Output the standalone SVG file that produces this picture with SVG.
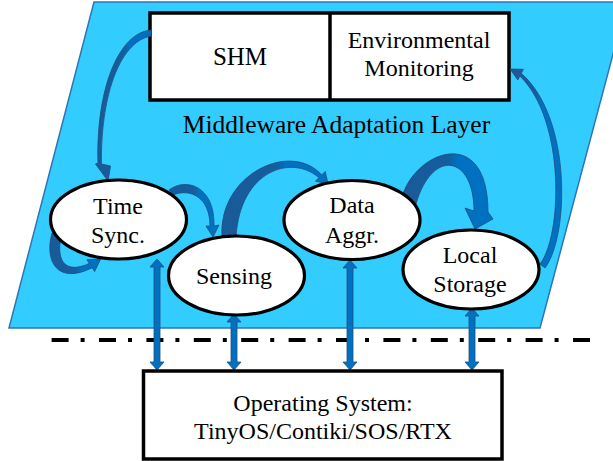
<svg xmlns="http://www.w3.org/2000/svg" width="613" height="461" viewBox="0 0 613 461" font-family="'Liberation Serif', 'DejaVu Serif', 'Noto Serif', serif">
<style>
text{font-family:"Liberation Serif","DejaVu Serif",serif;fill:#000;text-anchor:middle}
.box{fill:#fff;stroke:#000;stroke-width:3.5}
.ell{fill:#fff;stroke:#000;stroke-width:3.2}
.lbl{font-size:24px}
.curve{fill:url(#cg);stroke:#1F4E79;stroke-width:0.8}
.varr{fill:#0070C0;stroke:#1F4E79;stroke-width:0.8}
</style>
<defs>
<linearGradient id="cg" x1="0" y1="0" x2="1" y2="0">
<stop offset="0" stop-color="#1A5A99"/>
<stop offset="0.5" stop-color="#165C9E"/>
<stop offset="0.6" stop-color="#0070C0"/>
<stop offset="1" stop-color="#0070C0"/>
</linearGradient>
</defs>
<polygon points="94,2 627,2 540,328 9,328" fill="#33CCFF" stroke="#2E75B6" stroke-width="1.5"/>
<g id="apps">
<rect class="box" x="150" y="13" width="359" height="87"/>
<line x1="330" y1="13" x2="330" y2="100" stroke="#000" stroke-width="3.5"/>
<text x="240" y="65" font-size="25">SHM</text>
<text x="419" y="48" class="lbl">Environmental</text>
<text x="419" y="76" class="lbl">Monitoring</text>
</g>
<text id="layer-title" x="336.5" y="133" font-size="25.5">Middleware Adaptation Layer</text>
<line x1="51.6" y1="340" x2="591" y2="340" stroke="#000" stroke-width="4" stroke-dasharray="17 12 4 14.4"/>
<g id="connectors">
<path class="curve" d="M151,30 C118,33 96,90 98,163 L95.5,164 L108,181 L110.5,166 L101.5,164 C100.5,100 118,42 151,36 Z"/>
<path class="curve" d="M545,268 C569,236 572,118 521.3,73.3 L523.4,69.3 L510,69 L517.8,79.9 L519.9,76 C566,121 562,236 540,264 Z"/>
<path class="curve" d="M52,233 C44,262 58,285 92.1,267.7 L94.6,271.5 L100.7,259 L86.8,259.7 L89.3,263.5 C66,274 56,262 61,237 Z"/>
<path class="curve" d="M169,190 C186,177 215,186 214,226 L219,225 L213,237 L206,226 L210,226 C210,197 190,188 173,195 Z"/>
<path class="curve" d="M222,237 C218,175 290,140 321.7,174.9 L325.2,171.4 L328,184 L315.4,181.2 L318.9,177.7 C292,154 240,170 236,237 Z"/>
<path class="curve" d="M403,194 C418,150 488,125 488,212 L493,219 L475,229 L465,208 L474,211 C474,155 432,148 416,204 Z"/>
<path class="varr" d="M157,259 L164,267 L160,267 L160,362 L164,362 L157,370 L150,362 L154,362 L154,267 L150,267 Z"/>
<path class="varr" d="M234,314 L241,322 L237,322 L237,362 L241,362 L234,370 L227,362 L231,362 L231,322 L227,322 Z"/>
<path class="varr" d="M350,260 L357,268 L353,268 L353,362 L357,362 L350,370 L343,362 L347,362 L347,268 L343,268 Z"/>
<path class="varr" d="M472,308 L479,316 L475,316 L475,362 L479,362 L472,370 L465,362 L469,362 L469,316 L465,316 Z"/>
</g>
<g id="time-sync">
<ellipse class="ell" cx="118.5" cy="219.5" rx="68" ry="39.5"/>
<text x="118" y="214" class="lbl">Time</text>
<text x="118" y="243" class="lbl">Sync.</text>
</g>
<g id="sensing">
<ellipse class="ell" cx="236.5" cy="275.5" rx="68" ry="39.5"/>
<text x="234" y="284" class="lbl">Sensing</text>
</g>
<g id="data-aggr">
<ellipse class="ell" cx="352" cy="220" rx="68" ry="39.5"/>
<text x="352" y="213" class="lbl">Data</text>
<text x="352" y="243" class="lbl">Aggr.</text>
</g>
<g id="local-storage">
<ellipse class="ell" cx="471" cy="269.5" rx="68" ry="39.5"/>
<text x="470" y="263" class="lbl">Local</text>
<text x="470" y="292" class="lbl">Storage</text>
</g>
<g id="os">
<rect class="box" x="143.5" y="371" width="358.5" height="88" stroke-width="3"/>
<text x="323" y="411" class="lbl">Operating System:</text>
<text x="323" y="439" class="lbl">TinyOS/Contiki/SOS/RTX</text>
</g>
</svg>
